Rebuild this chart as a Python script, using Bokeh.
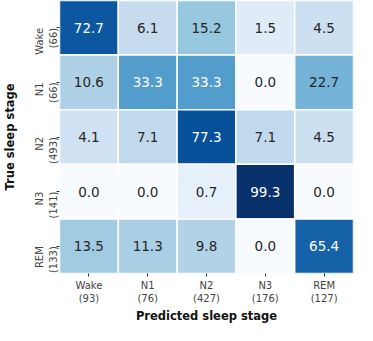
import math
from bokeh.plotting import figure
from bokeh.models import ColumnDataSource, FactorRange
from bokeh.core.properties import value
from bokeh.embed import file_html
from bokeh.resources import INLINE

# Data
true_stages = ["Wake", "N1", "N2", "N3", "REM"]
true_counts = [66, 66, 493, 141, 133]
pred_stages = ["Wake", "N1", "N2", "N3", "REM"]
pred_counts = [93, 76, 427, 176, 127]
percent = [
    [72.7, 6.1, 15.2, 1.5, 4.5],
    [10.6, 33.3, 33.3, 0.0, 22.7],
    [4.1, 7.1, 77.3, 7.1, 4.5],
    [0.0, 0.0, 0.7, 99.3, 0.0],
    [13.5, 11.3, 9.8, 0.0, 65.4],
]

y_labels = [f"{s}\n({c})" for s, c in zip(true_stages, true_counts)]
x_labels = [f"{s}\n({c})" for s, c in zip(pred_stages, pred_counts)]

# ColorBrewer Blues (as in matplotlib "Blues"), light -> dark
blues9 = ["#f7fbff", "#deebf7", "#c6dbef", "#9ecae1", "#6baed6",
          "#4292c6", "#2171b5", "#08519c", "#08306b"]


def hex2rgb(h):
    return [int(h[i:i + 2], 16) for i in (1, 3, 5)]


def to_color(v):
    # power-normalised colour scale (gamma 0.5) over 0..100 %
    t = math.sqrt(max(0.0, min(1.0, v / 100.0))) * (len(blues9) - 1)
    k = min(int(t), len(blues9) - 2)
    f = t - k
    a, b = hex2rgb(blues9[k]), hex2rgb(blues9[k + 1])
    c = [round(a[n] + (b[n] - a[n]) * f) for n in range(3)]
    return "#%02x%02x%02x" % tuple(c)


def lum(hexc):
    r, g, b = (int(hexc[i:i + 2], 16) / 255.0 for i in (1, 3, 5))
    def f(c):
        return c / 12.92 if c <= 0.03928 else ((c + 0.055) / 1.055) ** 2.4
    return 0.2126 * f(r) + 0.7152 * f(g) + 0.0722 * f(b)


xs, ys, fills, tcols, txt = [], [], [], [], []
for i, yl in enumerate(y_labels):
    for j, xl in enumerate(x_labels):
        v = percent[i][j]
        c = to_color(v)
        xs.append(xl)
        ys.append(yl)
        fills.append(c)
        tcols.append("#ffffff" if lum(c) < 0.408 else "#262626")
        txt.append(f"{v:.1f}")

src = ColumnDataSource(dict(x=xs, y=ys, fill=fills, tc=tcols, t=txt))

p = figure(
    width=357, height=325,
    x_range=FactorRange(*x_labels),
    y_range=FactorRange(*y_labels[::-1]),
    output_backend="svg", toolbar_location=None,
    min_border_left=0, min_border_right=4, min_border_top=0, min_border_bottom=0,
)

p.rect(x="x", y="y", width=1, height=1, source=src, fill_color="fill",
       line_color="white", line_width=1.5)
p.text(x="x", y="y", text="t", source=src, text_color="tc",
       text_align="center", text_baseline="middle", text_font_size="13.5px",
       text_font=value("DejaVu Sans"))

p.outline_line_color = None
p.grid.grid_line_color = None
for ax in (p.xaxis, p.yaxis):
    ax.axis_line_color = None
    ax.major_tick_line_color = "#333333"
    ax.major_tick_out = 3
    ax.major_tick_in = 0
    ax.minor_tick_line_color = None
    ax.major_label_text_font = "DejaVu Sans"
    ax.major_label_text_font_size = "10px"
    ax.major_label_text_color = "#444444"
    ax.axis_label_text_font = "DejaVu Sans"
    ax.axis_label_text_font_size = "11.5px"
    ax.axis_label_text_font_style = "bold"
    ax.axis_label_text_color = "#111111"
    ax.major_label_standoff = 3
    ax.axis_label_standoff = 2

p.yaxis.major_label_standoff = 10
p.xaxis.axis_label = "Predicted sleep stage"
p.yaxis.axis_label = "True sleep stage"
p.yaxis.major_label_orientation = math.pi / 2
p.x_range.range_padding = 0
p.y_range.range_padding = 0

open("out.html", "w").write(file_html(p, INLINE))
